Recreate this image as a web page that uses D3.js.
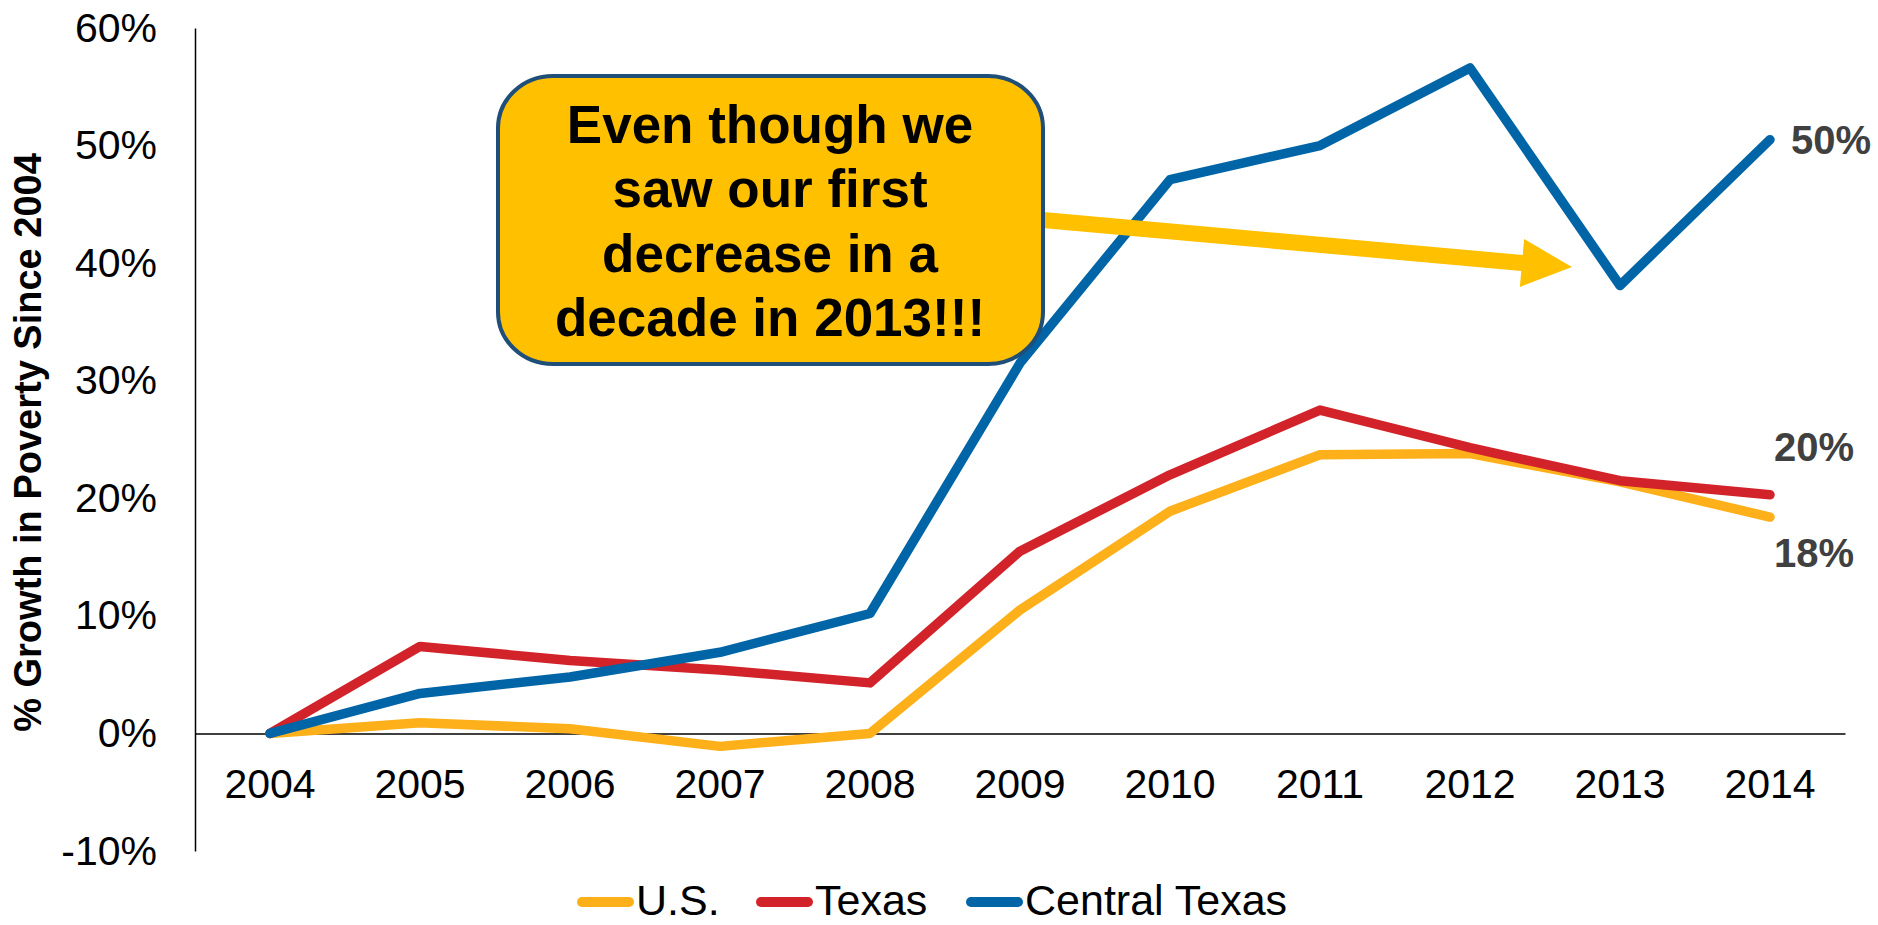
<!DOCTYPE html>
<html>
<head>
<meta charset="utf-8">
<script src="https://cdn.jsdelivr.net/npm/d3@7"></script>
<style>
  html, body { margin: 0; padding: 0; background: #ffffff; }
  svg { display: block; font-family: "Liberation Sans", Arial, sans-serif; }
</style>
</head>
<body>
<svg id="chart" width="1878" height="925"></svg>
<script>
// ---- data ----
const years = ["2004","2005","2006","2007","2008","2009","2010","2011","2012","2013","2014"];
const usValues      = [0, 0.9, 0.4, -1.1, 0.0, 10.5, 18.9, 23.7, 23.8, 21.4, 18.4];
const texasValues   = [0, 7.4, 6.2, 5.4, 4.3, 15.5, 22.0, 27.5, 24.3, 21.5, 20.3];
const centralValues = [0, 3.4, 4.8, 6.9, 10.2, 31.5, 47.1, 50.0, 56.6, 38.1, 50.5];
const seriesNames   = ["U.S.", "Texas", "Central Texas"];
const yTicks        = [-10, 0, 10, 20, 30, 40, 50, 60];
const endLabels     = ["18%", "20%", "50%"];
const calloutLines  = ["Even though we", "saw our first", "decrease in a", "decade in 2013!!!"];
const yTitle        = "% Growth in Poverty Since 2004";

// ---- styles ----
const colors = ["#FDB01A", "#D2232A", "#0065A6"];
const FONT = '"Liberation Sans", Arial, sans-serif';

const svg = d3.select("#chart");

const x = d3.scaleBand().domain(years).range([195, 1845]).padding(0);
const xc = d => x(d) + x.bandwidth() / 2;
const y = d3.scaleLinear().domain([-10, 60]).range([851, 28]);

// y axis
const yAxis = svg.append("g")
  .attr("transform", "translate(195,0)")
  .call(d3.axisLeft(y).tickValues(yTicks).tickSize(0).tickPadding(38).tickFormat(d => d + "%"));
yAxis.select(".domain").attr("stroke", "#000").attr("stroke-width", 1.5);
yAxis.selectAll("text").attr("font-size", 41).attr("font-family", FONT).attr("fill", "#000");

// x axis at 0%
const xAxis = svg.append("g")
  .attr("transform", `translate(0,${y(0)})`)
  .call(d3.axisBottom(x).tickSize(0).tickPadding(35));
xAxis.select(".domain").attr("stroke", "#000").attr("stroke-width", 1.5);
xAxis.selectAll("text").attr("font-size", 41).attr("font-family", FONT).attr("fill", "#000");

// y title
svg.append("text")
  .attr("transform", `translate(41,${(y(60) + y(-10)) / 2 + 3}) rotate(-90)`)
  .attr("text-anchor", "middle")
  .attr("font-weight", "bold")
  .attr("font-size", 38)
  .attr("fill", "#000")
  .text(yTitle);

// lines
const allSeries = [usValues, texasValues, centralValues];
const line = d3.line().x((d, i) => xc(years[i])).y(d => y(d));
allSeries.forEach((vals, k) => {
  svg.append("path")
    .datum(vals)
    .attr("d", line)
    .attr("fill", "none")
    .attr("stroke", colors[k])
    .attr("stroke-width", 9.5)
    .attr("stroke-linejoin", "round")
    .attr("stroke-linecap", "round");
});

// end labels
const last = years.length - 1;
const lx = xc(years[last]);
svg.append("text").attr("x", lx + 21).attr("y", y(centralValues[last]))
  .attr("dy", "0.36em").attr("font-weight", "bold").attr("font-size", 40).attr("fill", "#404040")
  .text(endLabels[2]);
svg.append("text").attr("x", lx + 4).attr("y", y(texasValues[last]) - 48)
  .attr("dy", "0.36em").attr("font-weight", "bold").attr("font-size", 40).attr("fill", "#404040")
  .text(endLabels[1]);
svg.append("text").attr("x", lx + 4).attr("y", y(usValues[last]) + 36)
  .attr("dy", "0.36em").attr("font-weight", "bold").attr("font-size", 40).attr("fill", "#404040")
  .text(endLabels[0]);

// arrow
const ax0 = 1043, ay0 = 220, ax1 = 1522, ay1 = 263, tipX = 1572, tipY = 267;
const ang = Math.atan2(ay1 - ay0, ax1 - ax0);
const sw = 8, hw = 24;
const px = -Math.sin(ang), py = Math.cos(ang);
const arrowPts = [
  [ax0 + px * sw, ay0 + py * sw],
  [ax1 + px * sw, ay1 + py * sw],
  [ax1 + px * hw, ay1 + py * hw],
  [tipX, tipY],
  [ax1 - px * hw, ay1 - py * hw],
  [ax1 - px * sw, ay1 - py * sw],
  [ax0 - px * sw, ay0 - py * sw]
];
svg.append("path")
  .attr("d", "M" + arrowPts.map(p => p.join(",")).join("L") + "Z")
  .attr("fill", "#FFC000");

// callout box
svg.append("rect")
  .attr("x", 498).attr("y", 76).attr("width", 545).attr("height", 288)
  .attr("rx", 55).attr("ry", 52)
  .attr("fill", "#FFC000").attr("stroke", "#1F4E79").attr("stroke-width", 4);
svg.append("g").selectAll("text").data(calloutLines).join("text")
  .attr("x", 770).attr("y", (d, i) => 143 + i * 64.3)
  .attr("text-anchor", "middle")
  .attr("font-weight", "bold").attr("font-size", 53).attr("fill", "#000")
  .text(d => d);

// legend
const legendItems = [
  { name: seriesNames[0], x: 577 },
  { name: seriesNames[1], x: 756 },
  { name: seriesNames[2], x: 966 }
];
const lg = svg.append("g");
legendItems.forEach((it, k) => {
  lg.append("line").attr("x1", it.x + 5).attr("x2", it.x + 52).attr("y1", 902).attr("y2", 902)
    .attr("stroke", colors[k]).attr("stroke-width", 10).attr("stroke-linecap", "round");
  lg.append("text").attr("x", it.x + 59).attr("y", 915).attr("font-size", 43).attr("fill", "#000")
    .text(it.name);
});
</script>
</body>
</html>
